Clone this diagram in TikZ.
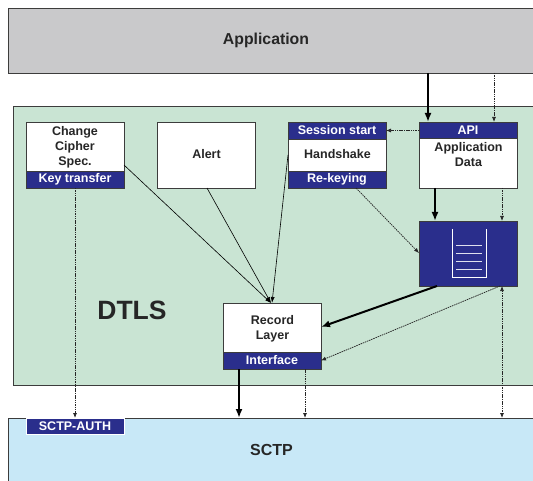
\documentclass[tikz,border=0pt]{standalone}
\usepackage{fontspec}
\setmainfont{Liberation Sans}
\usetikzlibrary{arrows.meta,calc}
\definecolor{appgray}{RGB}{201,201,203}
\definecolor{dtlsgreen}{RGB}{201,228,211}
\definecolor{sctpblue}{RGB}{200,232,247}
\definecolor{bandblue}{RGB}{42,46,140}
\definecolor{edge}{RGB}{60,60,60}
\tikzset{
  layer/.style={draw=edge,line width=0.8pt,anchor=north west,inner sep=0pt,outer sep=0pt},
  box/.style={draw=edge,line width=0.8pt,fill=white,anchor=north west,inner sep=0pt,outer sep=0pt,minimum width=98pt,minimum height=66pt},
  band/.style={draw=edge,line width=0.8pt,fill=bandblue,text=white,anchor=north west,inner sep=0pt,outer sep=0pt,minimum width=98pt,minimum height=17pt,font=\bfseries\fontsize{12.5}{15}\selectfont},
  boxtext/.style={align=center,inner sep=0pt,font=\bfseries\fontsize{12.5}{15}\selectfont,text=black!85},
  thin arrow/.style={line width=0.6pt,-{Latex[length=6pt,width=4pt]}},
  thick arrow/.style={line width=2pt,-{Latex[length=9pt,width=7pt]}},
  dot arrow/.style={black!85,line width=0.75pt,dash pattern=on 1.5pt off 0.8pt,-{Latex[length=5pt,width=4pt]}},
  dot both/.style={black!85,line width=0.75pt,dash pattern=on 1.5pt off 0.8pt,{Latex[length=5pt,width=4pt]}-{Latex[length=5pt,width=4pt]}},
}
\begin{document}
\begin{tikzpicture}[x=1pt,y=-1pt]
\useasboundingbox (0,0) rectangle (533,481);
\clip (0,0) rectangle (533,481);
% layers
\node[layer,fill=appgray,minimum width=540pt,minimum height=65pt] (app) at (8,8) {};
\node[boxtext,font=\bfseries\fontsize{15.8}{18}\selectfont] (apptxt) at (266,40) {Application};
\node[layer,fill=dtlsgreen,minimum width=540pt,minimum height=279pt] (dtls) at (13,106) {};
\node[boxtext,font=\bfseries\fontsize{26.5}{30}\selectfont] (dtlstxt) at (132,310) {DTLS};
\node[layer,fill=sctpblue,minimum width=545pt,minimum height=80pt] (sctp) at (8,418) {};
\node[boxtext,font=\bfseries\fontsize{16}{18}\selectfont] (sctptxt) at (271.5,450) {SCTP};
\node[band,draw=white,minimum height=16pt] (auth) at (26,418) {SCTP-AUTH};
% boxes
\node[box] (ccs) at (26,122) {};
\node[boxtext] (ccstxt) at (75,147) {Change\\Cipher\\Spec.};
\node[band] (key) at (26,171) {Key transfer};
\node[box] (alert) at (157,122) {};
\node[boxtext] (alerttxt) at (206.5,154.5) {Alert};
\node[box] (hs) at (288,122) {};
\node[band] (sess) at (288,122) {Session start};
\node[boxtext] (hstxt) at (337.5,154.5) {Handshake};
\node[band] (rekey) at (288,171) {Re-keying};
\node[box] (data) at (419,122) {};
\node[band,minimum height=16pt] (api) at (419,122) {API};
\node[boxtext] (datatxt) at (468.5,155) {Application\\Data};
\node[box,fill=bandblue,minimum height=65pt] (queue) at (419,221) {};
\draw[white,line width=1pt] (452,229) -- (452,278) -- (486,278) -- (486,229);
\foreach \yy in {246,254,262,270} \draw[white!85!bandblue,line width=1pt] (456,\yy) -- (482,\yy);
\node[box] (rec) at (223,303) {};
\node[boxtext] (rectxt) at (272.5,328.5) {Record\\Layer};
\node[band] (iface) at (223,352) {Interface};
% helper coordinates
\coordinate (xa) at (428,0);
\coordinate (xb) at (494,0);
\coordinate (xc) at (435,0);
\coordinate (xd) at (502,0);
\coordinate (xe) at (239,0);
\coordinate (xf) at (305,0);
\coordinate (xg) at (75,0);
\coordinate (meet) at (271,303);
% connectors
\draw[thick arrow] (xa |- app.south) -- (xa |- data.north);
\draw[dot arrow] (xb |- app.south) -- (xb |- data.north);
\draw[dot arrow] (data.west |- sess.east) -- (sess.east);
\draw[thick arrow] (xc |- data.south) -- (xc |- queue.north);
\draw[dot arrow] (xd |- data.south) -- (xd |- queue.north);
\draw[dot arrow] ($(rekey.south west)+(68,0)$) -- ($(queue.west)+(0,-0.5)$);
\draw[thick arrow] ($(queue.south west)+(18,0)$) -- ($(rec.east)+(0,-9)$);
\draw[dot arrow] ($(queue.south west)+(81,0)$) -- (iface.east);
\draw[dot both] (xd |- queue.south) -- (xd |- sctp.north);
\draw[thick arrow] (xe |- iface.south) -- (xe |- sctp.north);
\draw[dot arrow] (xf |- iface.south) -- (xf |- sctp.north);
\draw[dot arrow] (xg |- key.south) -- (xg |- auth.north);
\draw[thin arrow] ($(ccs.north east)+(0,43)$) -- (meet);
\draw[thin arrow] ($(alert.south west)+(50,0)$) -- (meet);
\draw[thin arrow] ($(hs.north west)+(0,33)$) -- ($(meet)+(1,0)$);
\end{tikzpicture}
\end{document}
